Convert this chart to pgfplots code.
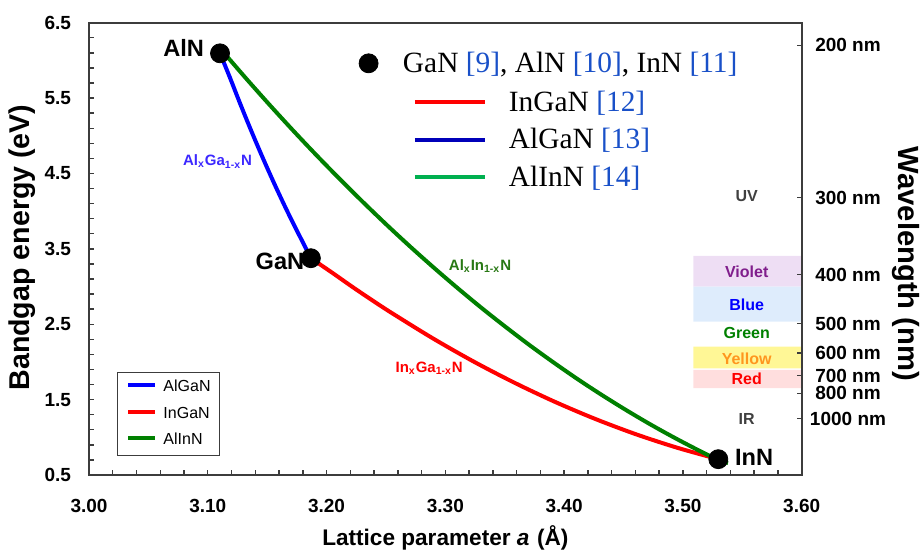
\documentclass[border=0pt]{standalone}
\usepackage{pgfplots}
\pgfplotsset{compat=1.18}
\usepackage{fontspec}
\setmainfont{Liberation Sans}
\newfontfamily\seriffont{Liberation Serif}

\definecolor{refblue}{RGB}{25,80,200}
\definecolor{legblue}{RGB}{0,0,185}
\definecolor{leggreen}{RGB}{0,176,80}
\definecolor{curvegreen}{RGB}{0,128,0}
\definecolor{curveblue}{RGB}{0,0,255}
\definecolor{curvered}{RGB}{255,0,0}
\definecolor{framegray}{RGB}{60,60,60}
\definecolor{violetfill}{RGB}{238,222,244}
\definecolor{bluefill}{RGB}{222,236,252}
\definecolor{yellowfill}{RGB}{255,247,150}
\definecolor{redfill}{RGB}{255,222,222}
\definecolor{violettext}{RGB}{128,30,140}
\definecolor{yellowtext}{RGB}{255,150,30}
\definecolor{labelblue}{RGB}{60,40,255}
\definecolor{labelgreen}{RGB}{40,120,20}
\definecolor{bandgray}{RGB}{64,64,64}

\pgfplotsset{
  frame/.style={scale only axis, width=356.35pt, height=226.15pt,
    at={(0pt,0pt)}, anchor=south west,
    xmin=3.0, xmax=3.6, ymin=0.5, ymax=6.5},
}

\begin{document}
\begin{tikzpicture}
% main axes: bandgap energy versus lattice parameter
\begin{axis}[frame,
  axis line style={framegray, line width=0.9pt},
  tick style={framegray, line width=0.7pt},
  tick align=inside,
  xtick pos=bottom, ytick pos=left,
  xtick={3.0,3.1,3.2,3.3,3.4,3.5,3.6},
  ytick={0.5,1.5,2.5,3.5,4.5,5.5,6.5},
  minor tick num=4,
  major tick length=2.6pt, minor tick length=2.6pt,
  /pgf/number format/assume math mode=true,
  tick label style={font=\bfseries\fontsize{9.5}{11}\selectfont},
  xticklabel style={/pgf/number format/.cd, fixed, fixed zerofill, precision=2, /tikz/.cd, yshift=-8.5pt},
  yticklabel style={/pgf/number format/.cd, fixed, fixed zerofill, precision=1, /tikz/.cd, xshift=-5.5pt},
  xlabel={Lattice parameter \textit{a}\,\,(Å)},
  ylabel={Bandgap energy (eV)},
  x label style={font=\bfseries\fontsize{11.3}{13}\selectfont, at={(axis description cs:0.5,-0.1393)}, anchor=center},
  y label style={font=\bfseries\fontsize{14.3}{16}\selectfont, at={(axis description cs:-0.094,0.503)}, anchor=center},
  legend style={at={(axis description cs:0.0397,0.2284)}, anchor=north west,
    draw=framegray, line width=0.6pt, fill=white,
    font=\fontsize{8}{9.6}\selectfont, nodes={inner sep=0pt},
    inner xsep=4.3pt, inner ysep=4pt, row sep=6pt},
  legend image code/.code={\draw[#1] (0pt,1.1pt) -- (13.5pt,1.1pt); \path (16.5pt,1.1pt);},
  legend cell align=left,
]
% visible spectrum bands
\addplot[draw=none, fill=violetfill, forget plot] coordinates {(3.5089,2.999) (3.6,2.999) (3.6,3.406) (3.5089,3.406) (3.5089,2.999)};
\addplot[draw=none, fill=bluefill, forget plot] coordinates {(3.5089,2.534) (3.6,2.534) (3.6,2.999) (3.5089,2.999) (3.5089,2.534)};
\addplot[draw=none, fill=yellowfill, forget plot] coordinates {(3.5089,1.916) (3.6,1.916) (3.6,2.203) (3.5089,2.203) (3.5089,1.916)};
\addplot[draw=none, fill=redfill, forget plot] coordinates {(3.5089,1.651) (3.6,1.651) (3.6,1.894) (3.5089,1.894) (3.5089,1.651)};

% ternary alloys
\addplot[curveblue, line width=2pt, smooth] coordinates {
  (3.1868,3.376) (3.1794,3.606) (3.1718,3.842) (3.1642,4.088) (3.1566,4.344)
  (3.1490,4.610) (3.1414,4.886) (3.1338,5.172) (3.1262,5.468) (3.1186,5.774) (3.1103,6.094)};
\addlegendentry{AlGaN}
\addplot[curvered, line width=2pt, smooth] coordinates {
  (3.1868,3.376) (3.2046,3.185) (3.2217,2.996) (3.2388,2.814) (3.2560,2.638)
  (3.2902,2.306) (3.3244,2.000) (3.3587,1.720) (3.3929,1.466) (3.4271,1.238)
  (3.4613,1.036) (3.4956,0.860) (3.5298,0.710)};
\addlegendentry{InGaN}
\addplot[curvegreen, line width=2pt, smooth] coordinates {
  (3.112,6.130) (3.132,5.765) (3.152,5.411) (3.172,5.067) (3.192,4.734)
  (3.212,4.412) (3.232,4.100) (3.252,3.798) (3.272,3.507) (3.292,3.227)
  (3.312,2.957) (3.332,2.697) (3.352,2.449) (3.372,2.210) (3.392,1.983)
  (3.412,1.765) (3.432,1.559) (3.452,1.363) (3.472,1.177) (3.492,1.002)
  (3.512,0.837) (3.5298,0.700) (3.538,0.660)};
\addlegendentry{AlInN}

% band labels
\begin{scope}[font=\bfseries\fontsize{8}{9.6}\selectfont]
\node[bandgray] at (axis cs:3.5537,4.198) {UV};
\node[violettext] at (axis cs:3.5537,3.198) {Violet};
\node[curveblue] at (axis cs:3.5537,2.756) {Blue};
\node[curvegreen] at (axis cs:3.5537,2.381) {Green};
\node[yellowtext] at (axis cs:3.5537,2.042) {Yellow};
\node[curvered] at (axis cs:3.5537,1.771) {Red};
\node[bandgray] at (axis cs:3.5537,1.240) {IR};
\end{scope}

% alloy labels
\begin{scope}[font=\bfseries\fontsize{7.5}{9}\selectfont]
\node[labelblue] at (axis cs:3.1082,4.657) {Al\textsubscript{x}Ga\textsubscript{1-x}N};
\node[labelgreen] at (axis cs:3.3292,3.273) {Al\textsubscript{x}In\textsubscript{1-x}N};
\node[curvered] at (axis cs:3.2864,1.916) {In\textsubscript{x}Ga\textsubscript{1-x}N};
\end{scope}

% binary compounds
\begin{scope}[font=\bfseries\fontsize{11.8}{14}\selectfont]
\node at (axis cs:3.0797,6.164) {AlN};
\node at (axis cs:3.1608,3.330) {GaN};
\node at (axis cs:3.5600,0.736) {InN};
\end{scope}
\addplot[only marks, mark=*, mark size=4.75pt, black, forget plot] coordinates {
  (3.1103,6.094) (3.1868,3.376) (3.5298,0.710)};
\end{axis}

% wavelength scale on the right
\begin{axis}[frame,
  axis x line=none, axis y line*=right,
  axis line style={framegray, line width=0.9pt},
  tick style={framegray, line width=0.7pt},
  tick align=inside, major tick length=2.6pt,
  ytick={6.2,4.18,3.16,2.51,2.12,1.82,1.585,1.25},
  yticklabels={200 nm,300 nm,400 nm,500 nm,600 nm,700 nm,800 nm,1000 nm},
  minor ytick={},
  yticklabel style={font=\bfseries\fontsize{9.5}{11}\selectfont, anchor=center, xshift=23.15pt},
  ylabel={Wavelength (nm)},
  y label style={font=\bfseries\fontsize{14.6}{17}\selectfont, at={(axis description cs:1.1464,0.4665)}, anchor=center, rotate=180},
  legend style={at={(axis description cs:0.4455,0.7402)}, anchor=west, draw=none, fill=none,
    font=\seriffont\fontsize{14.7}{17}\selectfont, nodes={inner sep=0pt}, row sep=7pt},
  legend image code/.code={\draw[#1] (0pt,0.2pt) -- (35pt,0.2pt); \path (46pt,0.2pt);},
  legend cell align=left,
]
\addlegendimage{curvered, line width=2pt}
\addlegendentry{InGaN \textcolor{refblue}{[12]}}
\addlegendimage{legblue, line width=2pt}
\addlegendentry{AlGaN \textcolor{refblue}{[13]}}
\addlegendimage{leggreen, line width=2pt}
\addlegendentry{AlInN \textcolor{refblue}{[14]}}
\end{axis}

% reference marker for the binary compounds
\begin{axis}[frame, hide axis,
  legend style={at={(axis description cs:0.370,0.9102)}, anchor=west, draw=none, fill=none,
    font=\seriffont\fontsize{14.7}{17}\selectfont, nodes={inner sep=0pt}},
  legend image code/.code={\draw[#1] plot coordinates {(4.75pt,0pt)}; \path (21.75pt,0pt);},
]
\addlegendimage{only marks, mark=*, mark size=4.75pt, black}
\addlegendentry{GaN \textcolor{refblue}{[9]}, AlN \textcolor{refblue}{[10]}, InN \textcolor{refblue}{[11]}}
\end{axis}

\pgfresetboundingbox
\path (-44.5pt,-38.5pt) rectangle (417.5pt,237.5pt);
\end{tikzpicture}
\end{document}
